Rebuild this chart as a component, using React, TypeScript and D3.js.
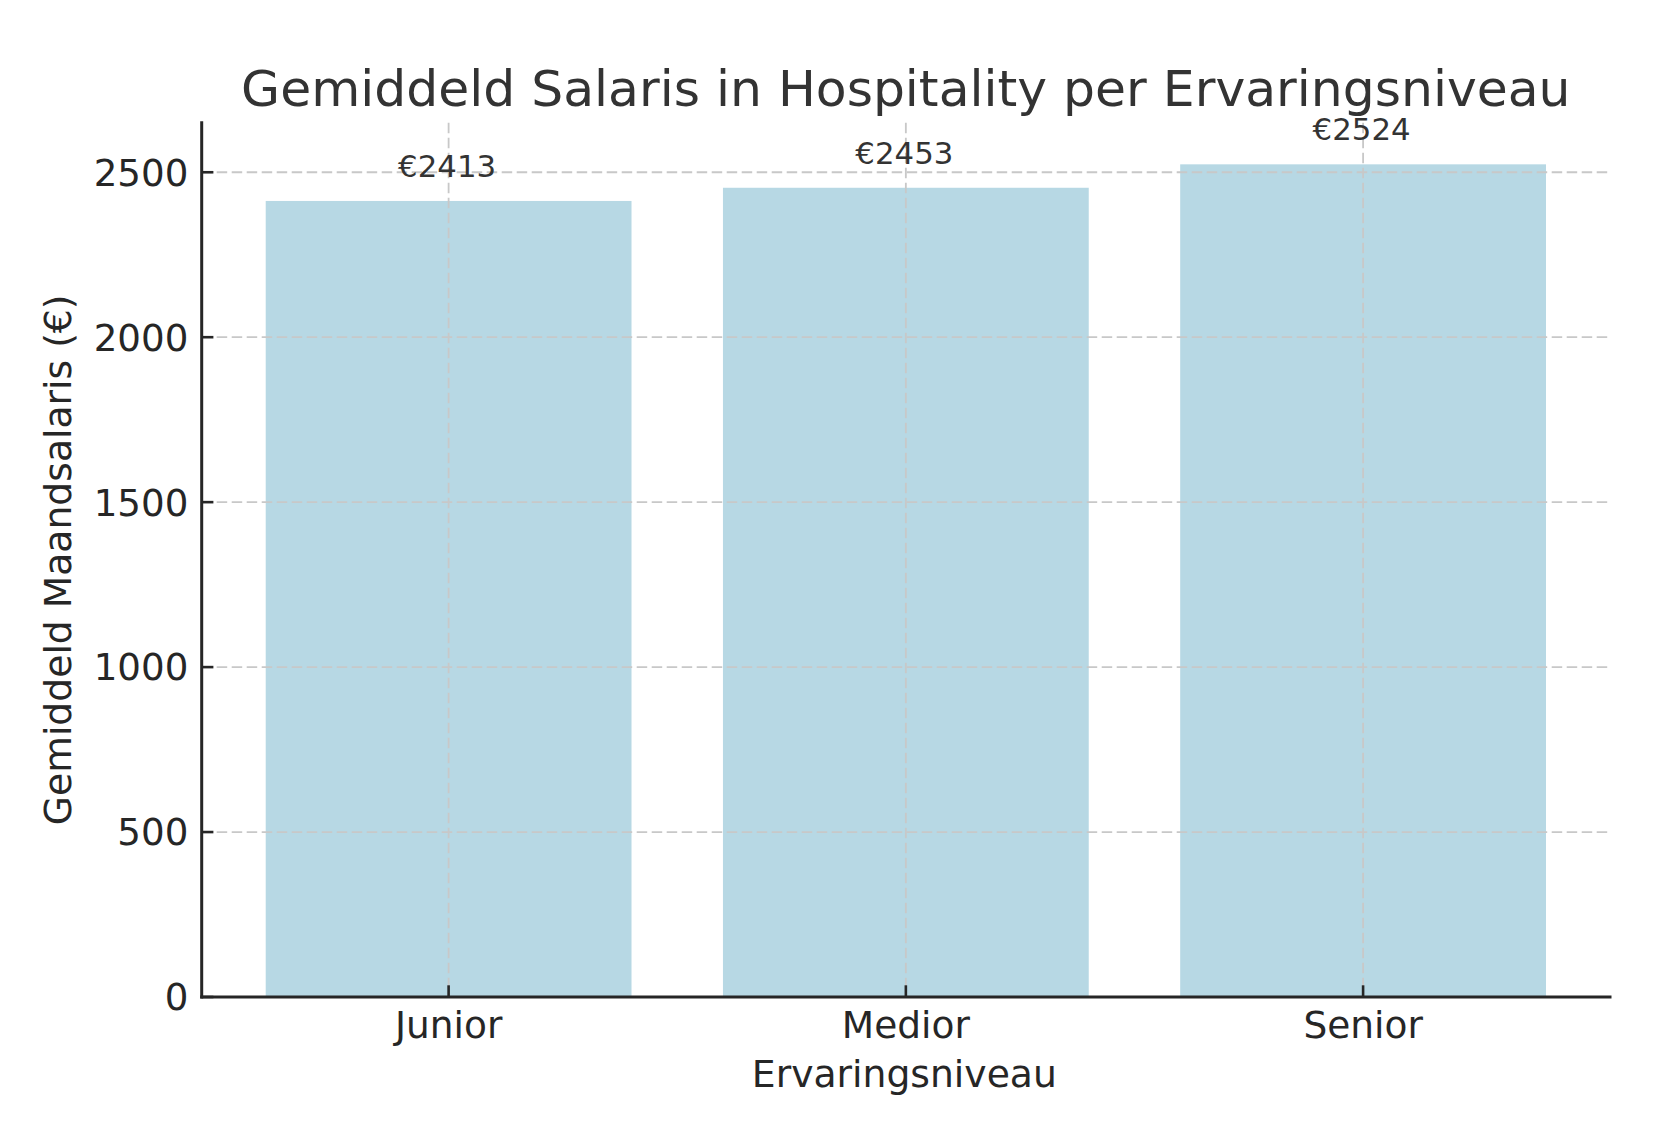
import { scaleBand, scaleLinear, max } from "d3";

const categories = ["Junior", "Medior", "Senior"];
const salaries = [2413, 2453, 2524];
const yTicks = [0, 500, 1000, 1500, 2000, 2500];

const W = 1658;
const H = 1130;
const left = 201.7;
const right = 1610;
const top = 122.7;
const bottom = 997;

const font = "'DejaVu Sans', sans-serif";

export default function App() {
  const x = scaleBand<string>()
    .domain(categories)
    .range([left, right])
    .paddingInner(0.2)
    .paddingOuter(0.14);

  const y = scaleLinear()
    .domain([0, max(salaries)! * 1.05])
    .range([bottom, top]);

  const bw = x.bandwidth();

  return (
    <div style={{ position: "absolute", left: 0, top: 0 }}>
      <svg width={W} height={H} style={{ display: "block", background: "#fff" }}>
        {/* bars */}
        {categories.map((c, i) => (
          <rect
            key={c}
            x={x(c)}
            y={y(salaries[i])}
            width={bw}
            height={bottom - y(salaries[i])}
            fill="#b7d8e4"
          />
        ))}

        {/* grid, drawn over bars */}
        <g stroke="#c8c8c8" strokeWidth={1.8} strokeDasharray="10.5,4.5" fill="none">
          {yTicks.map((t) => (
            <line key={t} x1={left} x2={right} y1={y(t)} y2={y(t)} />
          ))}
          {categories.map((c) => (
            <line key={c} x1={x(c)! + bw / 2} x2={x(c)! + bw / 2} y1={top} y2={bottom} />
          ))}
        </g>

        {/* value labels */}
        {categories.map((c, i) => (
          <text
            key={c}
            x={x(c)! + bw / 2 - 1.5}
            y={y(salaries[i] + 50) - 7.5}
            textAnchor="middle"
            fontFamily={font}
            fontSize={30.8}
            fill="#333"
          >
            €{salaries[i]}
          </text>
        ))}

        {/* y ticks */}
        {yTicks.map((t) => (
          <g key={t}>
            <line x1={left} x2={left + 11.7} y1={y(t)} y2={y(t)} stroke="#262626" strokeWidth={2.6} />
            <text
              x={left - 13.4}
              y={y(t)}
              dy="0.36em"
              textAnchor="end"
              fontFamily={font}
              fontSize={37.2}
              fill="#262626"
            >
              {t}
            </text>
          </g>
        ))}

        {/* x ticks */}
        {categories.map((c) => (
          <g key={c}>
            <line
              x1={x(c)! + bw / 2}
              x2={x(c)! + bw / 2}
              y1={bottom}
              y2={bottom - 11.7}
              stroke="#262626"
              strokeWidth={2.6}
            />
            <text
              x={x(c)! + bw / 2}
              y={1037.5}
              textAnchor="middle"
              fontFamily={font}
              fontSize={37.5}
              fill="#262626"
            >
              {c}
            </text>
          </g>
        ))}

        {/* spines */}
        <line x1={left} x2={left} y1={top} y2={bottom} stroke="#262626" strokeWidth={3} strokeLinecap="square" />
        <line x1={left} x2={right} y1={bottom} y2={bottom} stroke="#262626" strokeWidth={3} strokeLinecap="square" />

        {/* axis labels */}
        <text
          x={(left + right) / 2 - 1.5}
          y={1087}
          textAnchor="middle"
          fontFamily={font}
          fontSize={37.7}
          fill="#262626"
        >
          Ervaringsniveau
        </text>
        <text
          transform={`translate(71, ${(top + bottom) / 2}) rotate(-90)`}
          textAnchor="middle"
          fontFamily={font}
          fontSize={37.7}
          fill="#262626"
        >
          Gemiddeld Maandsalaris (€)
        </text>

        {/* title */}
        <text
          x={(left + right) / 2}
          y={105.5}
          textAnchor="middle"
          fontFamily={font}
          fontSize={50.4}
          fill="#333"
        >
          Gemiddeld Salaris in Hospitality per Ervaringsniveau
        </text>
      </svg>
    </div>
  );
}
